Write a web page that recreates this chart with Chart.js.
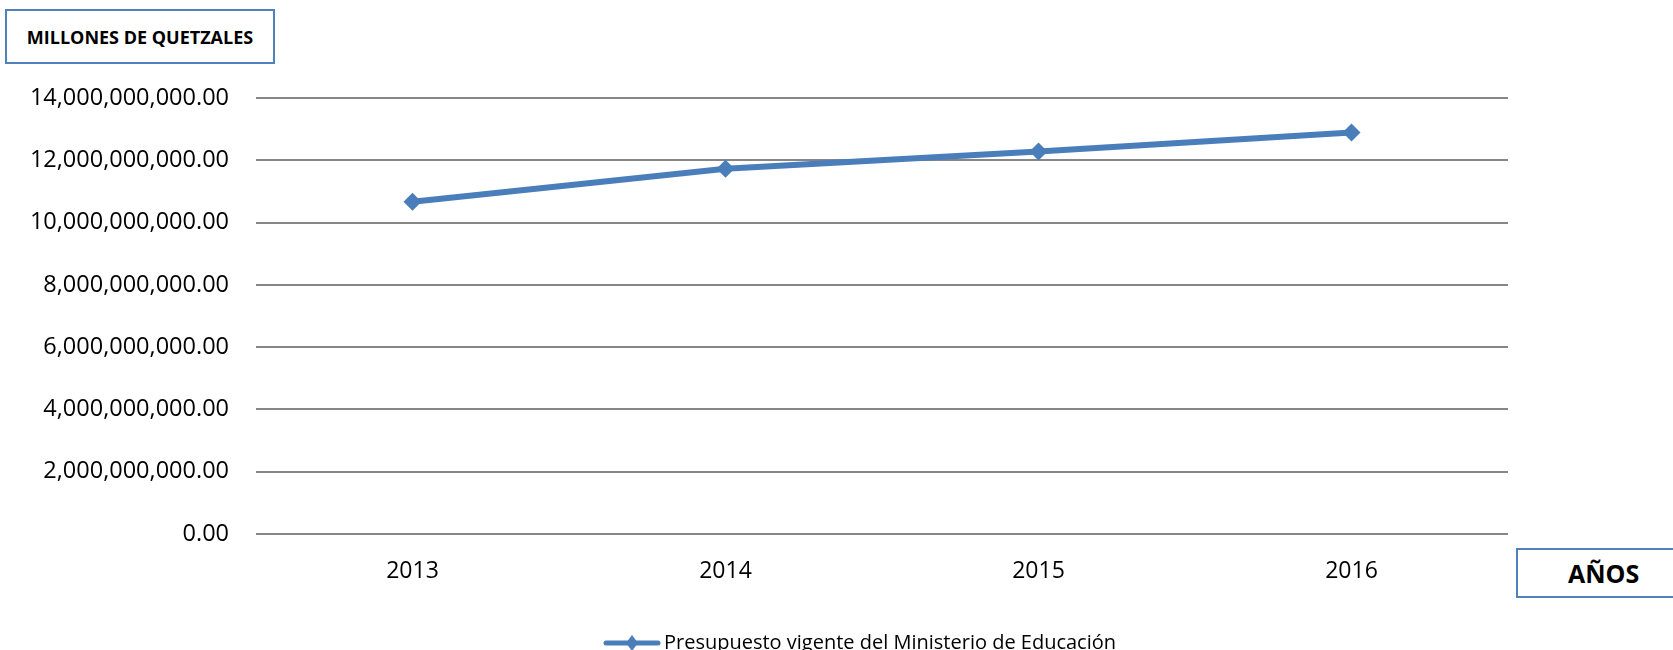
<!DOCTYPE html>
<html>
<head>
<meta charset="utf-8">
<script src="https://cdn.jsdelivr.net/npm/chart.js@4"></script>
<style>
  html, body { margin: 0; padding: 0; background: #fff; }
  #wrap { position: relative; width: 1673px; height: 650px; }
  .box {
    position: absolute; box-sizing: border-box;
    border: 2px solid #4f81bd; background: #fff;
    font-family: 'Open Sans', sans-serif; font-weight: bold; color: #000;
    display: flex; align-items: center; justify-content: center;
  }
</style>
</head>
<body>
<div id="wrap">
  <canvas id="chart" width="1673" height="650"></canvas>
  <div class="box" style="left:5px; top:9px; width:270px; height:55px; font-size:18px">MILLONES DE QUETZALES</div>
  <div class="box" style="left:1516px; top:548px; width:170px; height:50px; font-size:25px; justify-content:flex-start; padding-left:50px">AÑOS</div>
</div>
<script>
// ── Data ──────────────────────────────────────────────
const years  = ['2013', '2014', '2015', '2016'];
const budget = [10670000000, 11730000000, 12280000000, 12890000000];
const seriesName = 'Presupuesto vigente del Ministerio de Educación';

const BLUE = '#4a7ebb';
const GRID = '#868686';

function fmtNum(v) {
  return Number(v).toLocaleString('en-US', { minimumFractionDigits: 2, maximumFractionDigits: 2 });
}

// legend symbol: line with diamond (left part left transparent so the item sits where the original one does)
const SHIFT = 218;
function legendSymbol() {
  const c = document.createElement('canvas');
  c.width = 58 + SHIFT; c.height = 18;
  const g = c.getContext('2d');
  g.strokeStyle = BLUE; g.lineWidth = 5; g.lineCap = 'round';
  g.beginPath(); g.moveTo(SHIFT + 3, 9); g.lineTo(SHIFT + 55, 9); g.stroke();
  g.fillStyle = BLUE;
  g.beginPath();
  g.moveTo(SHIFT + 29, 1); g.lineTo(SHIFT + 35, 9); g.lineTo(SHIFT + 29, 17); g.lineTo(SHIFT + 23, 9);
  g.closePath(); g.fill();
  return c;
}
const sym = legendSymbol();

new Chart(document.getElementById('chart'), {
  type: 'line',
  data: {
    labels: years,
    datasets: [{
      label: seriesName,
      data: budget,
      borderColor: BLUE,
      backgroundColor: BLUE,
      borderWidth: 6,
      pointStyle: 'rectRot',
      pointRadius: 9,
      pointHoverRadius: 9,
      pointBackgroundColor: BLUE,
      pointBorderColor: BLUE,
      pointBorderWidth: 0,
      tension: 0,
    }]
  },
  options: {
    responsive: false,
    animation: false,
    layout: { padding: { left: 0, right: 165, top: 98, bottom: -13 } },
    plugins: {
      tooltip: { enabled: false },
      legend: {
        position: 'bottom',
        labels: {
          usePointStyle: true,
          pointStyleWidth: 44 + SHIFT,
          padding: 4,
          color: '#000',
          font: { family: 'Open Sans', size: 20 },
          generateLabels: chart => [{
            text: seriesName, pointStyle: sym, fillStyle: BLUE, strokeStyle: BLUE,
            lineWidth: 0, hidden: false, datasetIndex: 0, fontColor: '#000'
          }]
        }
      }
    },
    scales: {
      x: {
        offset: true,
        grid: { display: false, drawTicks: false },
        border: { display: false },
        ticks: { color: '#000', font: { family: 'Open Sans', size: 23 }, padding: 24 },
        afterFit: s => { s.height = 95; }
      },
      y: {
        min: 0, max: 14000000000,
        ticks: {
          stepSize: 2000000000, color: '#000', padding: 27,
          font: { family: 'Open Sans', size: 23.5 },
          callback: v => fmtNum(v)
        },
        grid: { color: GRID, lineWidth: 2, drawTicks: false },
        border: { display: false },
        afterFit: s => { s.width = 256; }
      }
    }
  }
});
</script>
</body>
</html>
